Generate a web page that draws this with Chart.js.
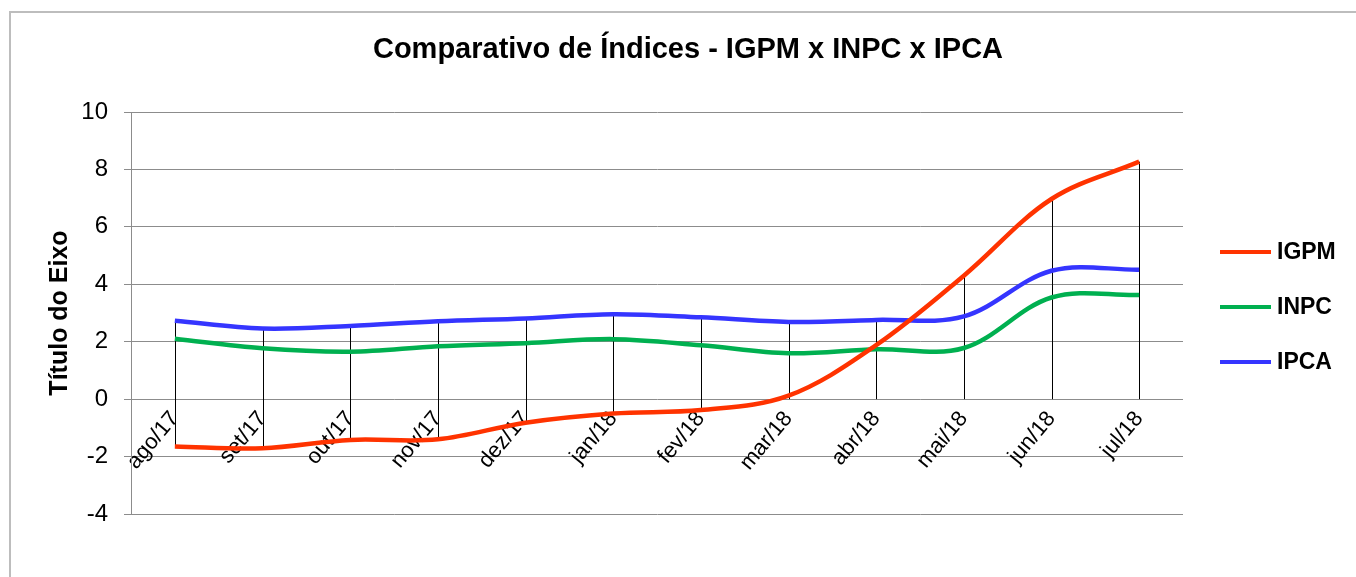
<!DOCTYPE html>
<html>
<head>
<meta charset="utf-8">
<script src="https://cdn.jsdelivr.net/npm/chart.js@4.4.1/dist/chart.umd.min.js"></script>
<style>
    html, body { margin: 0; padding: 0; background: #fff; }
    #wrap { width: 1356px; height: 577px; position: relative; }
</style>
</head>
<body>
<div id="wrap"><canvas id="myChart" width="1356" height="577"></canvas></div>
<script>
// months on the category axis
var labels = ['ago/17', 'set/17', 'out/17', 'nov/17', 'dez/17', 'jan/18', 'fev/18', 'mar/18', 'abr/18', 'mai/18', 'jun/18', 'jul/18'];

// values
var igpm = [-1.65, -1.71, -1.42, -1.40, -0.82, -0.50, -0.38, 0.12, 1.88, 4.30, 6.97, 8.27];
var inpc = [2.10, 1.77, 1.65, 1.84, 1.95, 2.09, 1.88, 1.60, 1.74, 1.78, 3.54, 3.63];
var ipca = [2.73, 2.46, 2.55, 2.71, 2.81, 2.96, 2.85, 2.69, 2.76, 2.88, 4.47, 4.51];

var seriesNames = ['IGPM', 'INPC', 'IPCA'];
var seriesColors = ['#ff3300', '#00b050', '#3535ff'];

var yTicks = [-4, -2, 0, 2, 4, 6, 8, 10];

var chartTitle = 'Comparativo de Índices - IGPM x INPC x IPCA';
var fontFamily = "'Liberation Sans', Arial, sans-serif";

// white background + light grey frame like the excel chart box, and the title
var frame = {
    id: 'frame',
    beforeDraw: function (chart) {
        var ctx = chart.ctx;
        ctx.save();
        ctx.fillStyle = '#fff';
        ctx.fillRect(0, 0, chart.width, chart.height);
        ctx.strokeStyle = '#bdbdbd';
        ctx.lineWidth = 2;
        ctx.strokeRect(10, 12, chart.width + 20, chart.height + 20);
        // title centred on the frame, not on the plot
        ctx.fillStyle = '#000';
        ctx.font = 'bold 29px ' + fontFamily;
        ctx.textAlign = 'center';
        ctx.textBaseline = 'middle';
        ctx.fillText(chartTitle, 688, 50);
        ctx.restore();
    }
};

// drop lines: from every point down (or up) to the category axis
var dropLines = {
    id: 'dropLines',
    beforeDatasetsDraw: function (chart) {
        var ctx = chart.ctx;
        var x = chart.scales.x, y = chart.scales.y;
        ctx.save();
        ctx.strokeStyle = '#000';
        ctx.lineWidth = 1;
        for (var i = 0; i < labels.length; i++) {
            var lo = 0, hi = 0;
            chart.data.datasets.forEach(function (ds) {
                lo = Math.min(lo, ds.data[i]);
                hi = Math.max(hi, ds.data[i]);
            });
            var px = Math.round(x.getPixelForValue(i)) + 0.5;
            ctx.beginPath();
            ctx.moveTo(px, y.getPixelForValue(hi));
            ctx.lineTo(px, y.getPixelForValue(lo));
            ctx.stroke();
        }
        ctx.restore();
    }
};

// legend on the right, short thick lines + bold names
var sideLegend = {
    id: 'sideLegend',
    afterDraw: function (chart) {
        var ctx = chart.ctx;
        var area = chart.chartArea;
        var mid = (area.top + area.bottom) / 2 - 6;
        var gap = 55;
        ctx.save();
        ctx.font = 'bold 23px ' + fontFamily;
        ctx.textBaseline = 'middle';
        chart.data.datasets.forEach(function (ds, k) {
            var yy = mid + (k - 1) * gap;
            ctx.strokeStyle = ds.borderColor;
            ctx.lineWidth = 4;
            ctx.beginPath();
            ctx.moveTo(area.right + 37, yy);
            ctx.lineTo(area.right + 88, yy);
            ctx.stroke();
            ctx.fillStyle = '#000';
            ctx.fillText(ds.label, area.right + 94, yy + 1);
        });
        ctx.restore();
    }
};

var datasets = [igpm, inpc, ipca].map(function (vals, k) {
    return {
        label: seriesNames[k],
        data: vals,
        borderColor: seriesColors[k],
        backgroundColor: seriesColors[k],
        borderWidth: 4.5,
        pointRadius: 0,
        tension: 0.35,
        fill: false
    };
});

var ctx = document.getElementById('myChart').getContext('2d');
var myChart = new Chart(ctx, {
    type: 'line',
    data: { labels: labels, datasets: datasets },
    options: {
        responsive: false,
        animation: false,
        layout: { padding: { left: 0, right: 173, top: 112, bottom: 63 } },
        plugins: {
            legend: { display: false },
            tooltip: { enabled: false },
            title: { display: false }
        },
        scales: {
            x: {
                type: 'category',
                position: { y: 0 },
                offset: true,
                grid: { display: false, drawTicks: false },
                border: { display: false },
                ticks: {
                    color: '#000',
                    font: { family: fontFamily, size: 22 },
                    minRotation: 50,
                    maxRotation: 50,
                    autoSkip: false,
                    padding: 7
                }
            },
            y: {
                min: -4,
                max: 10,
                afterBuildTicks: function (scale) {
                    scale.ticks = yTicks.map(function (v) { return { value: v }; });
                },
                afterFit: function (scale) { scale.width = 131; },
                grid: { color: '#8c8c8c', lineWidth: 1, tickLength: 7, drawTicks: true },
                border: { display: true, color: '#8c8c8c', width: 1 },
                ticks: {
                    color: '#000',
                    font: { family: fontFamily, size: 24 },
                    padding: 16
                },
                title: {
                    display: true,
                    text: 'Título do Eixo',
                    color: '#000',
                    font: { family: fontFamily, size: 25, weight: 'bold' },
                    padding: { top: 45, bottom: 0 }
                }
            }
        }
    },
    plugins: [frame, dropLines, sideLegend]
});
</script>
</body>
</html>
